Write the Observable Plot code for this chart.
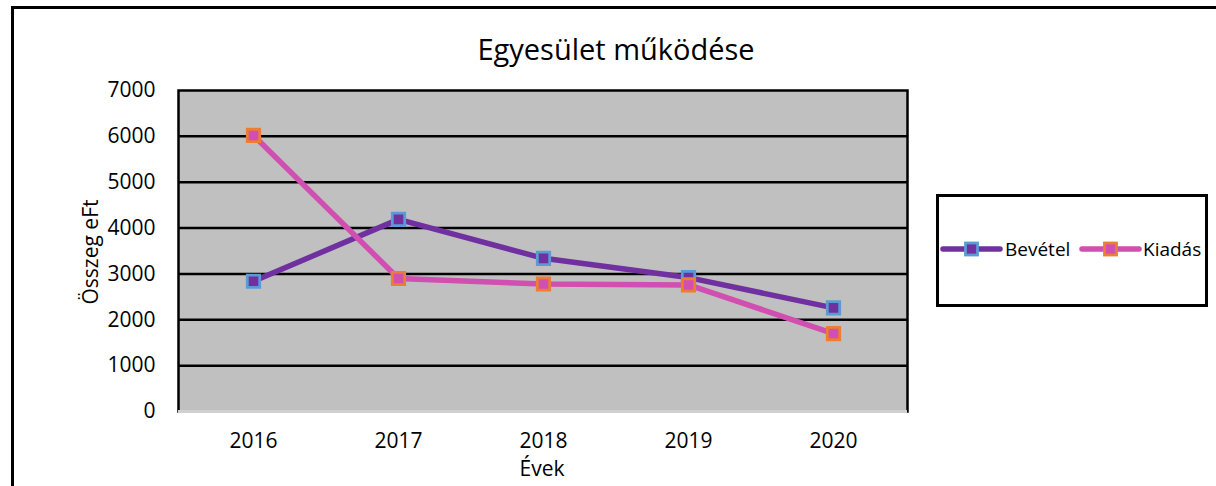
<!DOCTYPE html>
<html>
<head>
<meta charset="utf-8">
<script src="https://cdn.jsdelivr.net/npm/d3@7"></script>
<script src="https://cdn.jsdelivr.net/npm/@observablehq/plot@0.6"></script>
<style>
  html, body { margin: 0; padding: 0; background: #fff; }
  #wrap { position: relative; width: 1216px; height: 486px; overflow: hidden; font-family: "Open Sans", sans-serif; }
  #border { position: absolute; left: 11px; top: 6px; width: 1300px; height: 600px; border-left: 3px solid #000; border-top: 3px solid #000; }
  #chart { position: absolute; left: 0; top: 0; }
  .txt { position: absolute; color: #000; white-space: nowrap; }
  #title { left: 0; width: 1232px; top: 29px; text-align: center; font-size: 29px; }
  #xlab { left: 442px; width: 200px; top: 454px; text-align: center; font-size: 21px; }
  #ylab { left: 90px; top: 252px; font-size: 21px; transform: translate(-50%, -50%) rotate(-90deg); }
  #legend { position: absolute; left: 936px; top: 194px; width: 266px; height: 107px; border: 3px solid #000; background: #fff; overflow: hidden; }
</style>
</head>
<body>
<div id="wrap">
  <div id="border"></div>
  <div id="chart"></div>
  <div class="txt" id="title">Egyesület működése</div>
  <div class="txt" id="xlab">Évek</div>
  <div class="txt" id="ylab">Összeg eFt</div>
  <div id="legend"></div>
</div>
<script>
const years = ["2016", "2017", "2018", "2019", "2020"];
const bevetel = [2840, 4190, 3340, 2920, 2260];
const kiadas = [6020, 2900, 2780, 2760, 1700];
const yTicks = [0, 1000, 2000, 3000, 4000, 5000, 6000, 7000];
const seriesNames = ["Bevétel", "Kiadás"];
const lineColors = ["#7030a0", "#d04fb0"];
const markerStrokes = ["#5b9bd5", "#ed7d31"];

const rows = [];
years.forEach((yr, i) => {
  rows.push({year: yr, value: bevetel[i], series: seriesNames[0]});
  rows.push({year: yr, value: kiadas[i], series: seriesNames[1]});
});

const plot = Plot.plot({
  width: 1216,
  height: 486,
  marginLeft: 178,
  marginRight: 309,
  marginTop: 90,
  marginBottom: 75,
  style: {fontFamily: "Open Sans, sans-serif", fontSize: "21px", color: "#000", background: "transparent", overflow: "visible"},
  x: {type: "point", domain: years, padding: 0.5, align: 0.5},
  y: {domain: [0, 7000], ticks: yTicks},
  marks: [
    Plot.frame({fill: "#c0c0c0", stroke: "#000", strokeWidth: 2.5}),
    Plot.ruleY([0], {stroke: "#d0d0d0", strokeWidth: 3}),
    Plot.ruleY(yTicks.slice(1, -1), {stroke: "#000", strokeWidth: 2.5}),
    Plot.axisY({ticks: yTicks, tickSize: 0, tickPadding: 23, label: null, fontSize: 21, tickFormat: d => String(d)}),
    Plot.axisX({tickSize: 0, tickPadding: 22, label: null, fontSize: 21}),
    Plot.line(rows.filter(d => d.series === seriesNames[0]), {x: "year", y: "value", stroke: lineColors[0], strokeWidth: 5.5}),
    Plot.line(rows.filter(d => d.series === seriesNames[1]), {x: "year", y: "value", stroke: lineColors[1], strokeWidth: 5.5}),
    Plot.dot(rows.filter(d => d.series === seriesNames[0]), {x: "year", y: "value", symbol: "square", r: 7, fill: lineColors[0], stroke: markerStrokes[0], strokeWidth: 2.8}),
    Plot.dot(rows.filter(d => d.series === seriesNames[1]), {x: "year", y: "value", symbol: "square", r: 7, fill: lineColors[1], stroke: markerStrokes[1], strokeWidth: 2.8})
  ]
});
document.getElementById("chart").appendChild(plot);

// Legend
const lg = d3.select("#legend").append("svg").attr("width", 266).attr("height", 107);
const items = [{x0: 4, t: 66}, {x0: 143, t: 204}];
seriesNames.forEach((name, i) => {
  const g = lg.append("g");
  const x0 = items[i].x0, cy = 52;
  g.append("line").attr("x1", x0).attr("x2", x0 + 57).attr("y1", cy).attr("y2", cy)
    .attr("stroke", lineColors[i]).attr("stroke-width", 5.5).attr("stroke-linecap", "round");
  g.append("rect").attr("x", x0 + 28.5 - 6).attr("y", cy - 6).attr("width", 12).attr("height", 12)
    .attr("fill", lineColors[i]).attr("stroke", markerStrokes[i]).attr("stroke-width", 2.8);
  g.append("text").attr("x", items[i].t).attr("y", cy).attr("dy", "0.36em")
    .attr("font-family", "Open Sans, sans-serif").attr("font-size", 19).text(name);
});
</script>
</body>
</html>
